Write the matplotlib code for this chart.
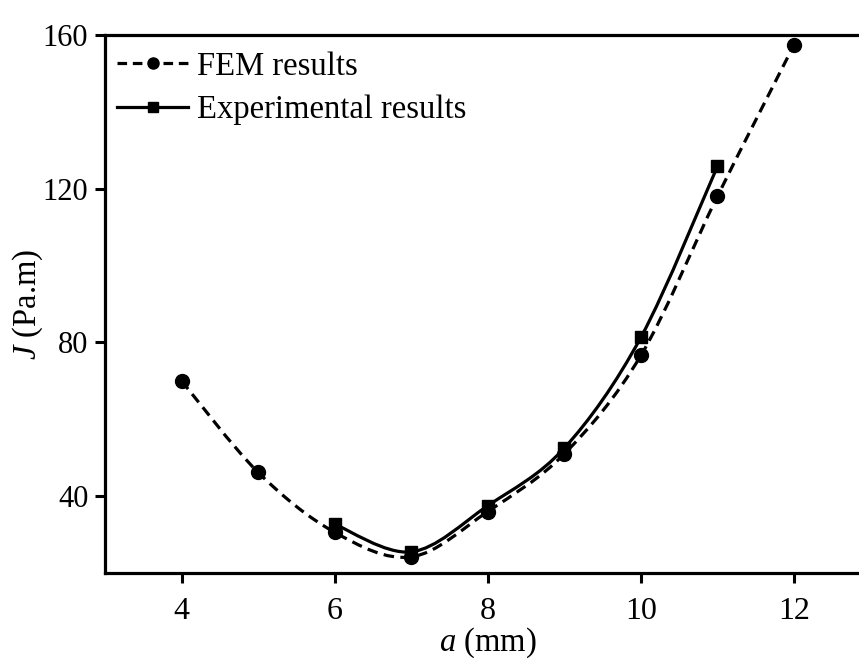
import numpy as np
import matplotlib
matplotlib.use("Agg")
import matplotlib.pyplot as plt
from matplotlib.path import Path
from matplotlib.patches import PathPatch
from matplotlib.lines import Line2D

# Data
fem_a = [4, 5, 6, 7, 8, 9, 10, 11, 12]
fem_J = [70.0, 46.2, 30.6, 24.2, 36.0, 51.0, 76.6, 118.0, 157.4]
exp_a = [6, 7, 8, 9, 10, 11]
exp_J = [32.7, 25.5, 37.5, 52.5, 81.3, 125.8]
x_ticks = [4, 6, 8, 10, 12]
y_ticks = [40, 80, 120, 160]

plt.rcParams['font.family'] = ['Liberation Serif', 'DejaVu Serif']
plt.rcParams['mathtext.fontset'] = 'custom'
plt.rcParams['mathtext.it'] = 'Liberation Serif:italic'
plt.rcParams['mathtext.rm'] = 'Liberation Serif'

fig = plt.figure(figsize=(8.59, 6.59), dpi=100)
ax = fig.add_axes([0.1222, 0.1305, 0.8912, 0.8164])


def smooth_path(xs, ys):
    pts = np.column_stack([xs, ys]).astype(float)
    n = len(pts)
    verts = [pts[0]]
    codes = [Path.MOVETO]
    for i in range(n - 1):
        p0 = pts[i - 1] if i > 0 else pts[i]
        p1 = pts[i]
        p2 = pts[i + 1]
        p3 = pts[i + 2] if i + 2 < n else pts[i + 1]
        c1 = p1 + (p2 - p0) / 6.0
        c2 = p2 - (p3 - p1) / 6.0
        verts += [c1, c2, p2]
        codes += [Path.CURVE4] * 3
    return Path(verts, codes)


lw = 2.3
dash = (0, (3.3, 2.0))
ax.add_patch(PathPatch(smooth_path(fem_a, fem_J), fill=False, edgecolor='black',
                       lw=lw, linestyle=dash, zorder=2))
ax.add_patch(PathPatch(smooth_path(exp_a, exp_J), fill=False, edgecolor='black',
                       lw=lw, linestyle='-', zorder=2))
ax.plot(fem_a, fem_J, linestyle='none', marker='o', ms=10, color='black', zorder=3)
ax.plot(exp_a, exp_J, linestyle='none', marker='s', ms=8.5, color='black', zorder=3)

ax.set_xlim(3, 13)
ax.set_ylim(20, 160)
ax.set_xticks(x_ticks)
ax.set_yticks(y_ticks)
ax.tick_params(direction='out', length=7, width=2.2)
ax.tick_params(axis='x', labelsize=23, pad=10)
ax.tick_params(axis='y', labelsize=22, pad=5)
for s in ax.spines.values():
    s.set_linewidth(2.3)

ax.set_xlabel('$\\mathit{a}$ (mm)', fontsize=23.5, labelpad=0)
ax.set_ylabel('$\\mathit{J}$ (Pa.m)', fontsize=23.5, labelpad=-2)

handles = [
    Line2D([], [], color='black', lw=lw, linestyle=(0, (3.0, 1.8)), marker='o', ms=8),
    Line2D([], [], color='black', lw=lw, linestyle='-', marker='s', ms=6.5),
]
ax.legend(handles, ['FEM results', 'Experimental results'], loc='upper left',
          frameon=False, fontsize=23.5, handlelength=2.15, handletextpad=0.3,
          labelspacing=0.4, borderaxespad=0.0, borderpad=0.5, numpoints=1,
          bbox_to_anchor=(-0.005, 1.0))

fig.savefig('out.png', dpi=100)
